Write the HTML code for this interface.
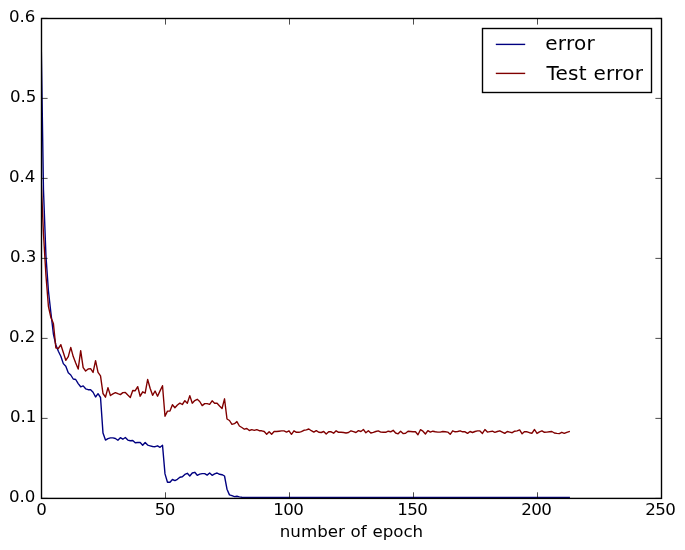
<!DOCTYPE html>
<html><head><meta charset="utf-8"><title>error plot</title>
<style>
html,body{margin:0;padding:0;background:#fff;}
svg{display:block}
text{font-family:"DejaVu Sans","Liberation Sans",sans-serif;fill:#000}
</style></head><body>
<svg width="685" height="550" viewBox="0 0 685 550">
<rect width="685" height="550" fill="#fff"/>
<defs><clipPath id="ax"><rect x="41" y="18.5" width="620" height="480.4"/></clipPath></defs>
<g clip-path="url(#ax)" fill="none" stroke-width="1.39" stroke-linejoin="round" stroke-linecap="square">
<polyline stroke="#000080" points="41.00,30.0 43.48,190.0 45.96,256.0 48.44,291.0 50.92,313.0 53.40,334.0 55.88,345.0 58.36,351.3 60.84,356.3 63.32,363.6 65.80,366.3 68.28,372.8 70.76,375.0 73.24,379.0 75.72,379.5 78.20,383.6 80.68,386.8 83.16,385.9 85.64,388.8 88.12,389.7 90.60,389.7 93.08,392.2 95.56,397.0 98.04,393.7 100.52,397.5 103.00,433.1 105.48,440.1 107.96,438.6 110.44,437.9 112.92,437.9 115.40,438.5 117.88,440.3 120.36,437.7 122.84,439.2 125.32,437.5 127.80,440.1 130.28,440.7 132.76,440.5 135.24,442.8 137.72,442.5 140.20,442.5 142.68,445.3 145.16,442.5 147.64,445.1 150.12,445.8 152.60,446.5 155.08,446.7 157.56,445.8 160.04,447.3 162.52,445.3 165.00,473.9 167.48,482.2 169.96,482.2 172.44,479.5 174.92,480.6 177.40,479.3 179.88,477.2 182.36,476.7 184.84,474.4 187.32,473.3 189.80,476.0 192.28,473.0 194.76,472.3 197.24,475.3 199.72,474.1 202.20,473.6 204.68,473.6 207.16,475.1 209.64,473.0 212.12,475.3 214.60,473.8 217.08,473.0 219.56,474.3 222.04,474.7 224.52,476.0 227.00,489.2 229.48,494.9 231.96,495.7 234.44,496.6 236.92,496.3 239.40,496.9 241.88,497.2 244.36,497.4 246.84,497.5 249.32,497.5 251.80,497.5 254.28,497.5 256.76,497.5 259.24,497.5 261.72,497.5 264.20,497.5 266.68,497.5 269.16,497.5 271.64,497.5 274.12,497.5 276.60,497.5 279.08,497.5 281.56,497.5 284.04,497.5 286.52,497.5 289.00,497.5 291.48,497.5 293.96,497.5 296.44,497.5 298.92,497.5 301.40,497.5 303.88,497.5 306.36,497.5 308.84,497.5 311.32,497.5 313.80,497.5 316.28,497.5 318.76,497.5 321.24,497.5 323.72,497.5 326.20,497.5 328.68,497.5 331.16,497.5 333.64,497.5 336.12,497.5 338.60,497.5 341.08,497.5 343.56,497.5 346.04,497.5 348.52,497.5 351.00,497.5 353.48,497.5 355.96,497.5 358.44,497.5 360.92,497.5 363.40,497.5 365.88,497.5 368.36,497.5 370.84,497.5 373.32,497.5 375.80,497.5 378.28,497.5 380.76,497.5 383.24,497.5 385.72,497.5 388.20,497.5 390.68,497.5 393.16,497.5 395.64,497.5 398.12,497.5 400.60,497.5 403.08,497.5 405.56,497.5 408.04,497.5 410.52,497.5 413.00,497.5 415.48,497.5 417.96,497.5 420.44,497.5 422.92,497.5 425.40,497.5 427.88,497.5 430.36,497.5 432.84,497.5 435.32,497.5 437.80,497.5 440.28,497.5 442.76,497.5 445.24,497.5 447.72,497.5 450.20,497.5 452.68,497.5 455.16,497.5 457.64,497.5 460.12,497.5 462.60,497.5 465.08,497.5 467.56,497.5 470.04,497.5 472.52,497.5 475.00,497.5 477.48,497.5 479.96,497.5 482.44,497.5 484.92,497.5 487.40,497.5 489.88,497.5 492.36,497.5 494.84,497.5 497.32,497.5 499.80,497.5 502.28,497.5 504.76,497.5 507.24,497.5 509.72,497.5 512.20,497.5 514.68,497.5 517.16,497.5 519.64,497.5 522.12,497.5 524.60,497.5 527.08,497.5 529.56,497.5 532.04,497.5 534.52,497.5 537.00,497.5 539.48,497.5 541.96,497.5 544.44,497.5 546.92,497.5 549.40,497.5 551.88,497.5 554.36,497.5 556.84,497.5 559.32,497.5 561.80,497.5 564.28,497.5 566.76,497.5 569.24,497.5"/>
<polyline stroke="#800000" points="41.00,177.0 43.48,234.0 45.96,275.5 48.44,306.5 50.92,317.5 53.40,323.5 55.88,347.9 58.36,348.5 60.84,344.7 63.32,352.5 65.80,360.3 68.28,356.6 70.76,347.4 73.24,356.6 75.72,363.1 78.20,369.1 80.68,350.7 83.16,367.6 85.64,371.0 88.12,369.0 90.60,368.6 93.08,372.4 95.56,360.6 98.04,372.4 100.52,375.9 103.00,393.5 105.48,397.2 107.96,387.6 110.44,395.5 112.92,393.9 115.40,392.6 117.88,393.7 120.36,394.6 122.84,392.6 125.32,392.5 127.80,395.1 130.28,397.5 132.76,390.5 135.24,390.7 137.72,386.7 140.20,396.2 142.68,391.8 145.16,393.1 147.64,379.5 150.12,388.3 152.60,395.3 155.08,391.0 157.56,396.2 160.04,390.9 162.52,385.7 165.00,416.3 167.48,411.1 169.96,411.1 172.44,404.7 174.92,407.8 177.40,405.0 179.88,403.1 182.36,404.5 184.84,400.7 187.32,403.2 189.80,395.6 192.28,403.2 194.76,400.6 197.24,399.3 199.72,401.5 202.20,405.6 204.68,403.6 207.16,403.6 209.64,404.3 212.12,400.8 214.60,403.2 217.08,403.2 219.56,406.0 222.04,408.5 224.52,398.8 227.00,419.0 229.48,420.5 231.96,424.4 234.44,423.7 236.92,421.6 239.40,426.0 241.88,427.5 244.36,429.2 246.84,428.5 249.32,430.5 251.80,429.7 254.28,430.4 256.76,429.6 259.24,430.7 261.72,430.8 264.20,431.5 266.68,434.3 269.16,431.8 271.64,434.3 274.12,431.5 276.60,431.5 279.08,431.2 281.56,430.9 284.04,430.9 286.52,432.1 289.00,430.8 291.48,434.3 293.96,430.8 296.44,432.3 298.92,432.3 301.40,431.6 303.88,430.3 306.36,429.9 308.84,429.0 311.32,430.7 313.80,432.1 316.28,430.6 318.76,432.3 321.24,432.5 323.72,431.5 326.20,434.1 328.68,431.8 331.16,431.8 333.64,433.2 336.12,430.8 338.60,432.3 341.08,432.3 343.56,432.5 346.04,433.0 348.52,432.5 351.00,430.8 353.48,431.6 355.96,432.5 358.44,430.6 360.92,431.5 363.40,429.5 365.88,432.8 368.36,430.7 370.84,433.0 373.32,432.3 375.80,431.5 378.28,430.9 380.76,432.1 383.24,432.3 385.72,432.3 388.20,431.2 390.68,431.8 393.16,430.3 395.64,433.0 398.12,433.8 400.60,431.2 403.08,433.6 405.56,433.2 408.04,431.2 410.52,431.5 413.00,431.8 415.48,431.8 417.96,434.7 420.44,429.7 422.92,431.2 425.40,434.0 427.88,430.6 430.36,432.1 432.84,431.2 435.32,431.8 437.80,432.1 440.28,432.1 442.76,431.5 445.24,431.8 447.72,432.1 450.20,434.3 452.68,430.8 455.16,431.8 457.64,431.5 460.12,430.8 462.60,431.8 465.08,431.8 467.56,433.4 470.04,431.5 472.52,432.5 475.00,431.5 477.48,430.9 479.96,430.9 482.44,433.4 484.92,429.5 487.40,432.1 489.88,431.6 492.36,431.2 494.84,432.3 497.32,431.5 499.80,430.8 502.28,432.1 504.76,433.4 507.24,431.5 509.72,432.1 512.20,432.7 514.68,431.2 517.16,430.9 519.64,429.9 522.12,433.8 524.60,431.6 527.08,431.8 529.56,432.7 532.04,433.2 534.52,429.5 537.00,433.4 539.48,431.8 541.96,430.8 544.44,432.3 546.92,432.1 549.40,431.8 551.88,431.5 554.36,433.0 556.84,433.4 559.32,433.6 561.80,432.3 564.28,433.4 566.76,432.3 569.24,431.5"/>
</g>
<path d="M41.5 498.4v-6.1M41.5 18.5v6.1M165.5 498.4v-6.1M165.5 18.5v6.1M289.5 498.4v-6.1M289.5 18.5v6.1M413.5 498.4v-6.1M413.5 18.5v6.1M537.5 498.4v-6.1M537.5 18.5v6.1M661.5 498.4v-6.1M661.5 18.5v6.1M41.5 498.4h6.1M661.5 498.4h-6.1M41.5 418.4h6.1M661.5 418.4h-6.1M41.5 338.4h6.1M661.5 338.4h-6.1M41.5 258.4h6.1M661.5 258.4h-6.1M41.5 178.4h6.1M661.5 178.4h-6.1M41.5 98.4h6.1M661.5 98.4h-6.1M41.5 18.4h6.1M661.5 18.4h-6.1" stroke="#000" stroke-width="0.7" fill="none"/>
<rect x="41.5" y="18.5" width="620.0" height="479.9" fill="none" stroke="#000" stroke-width="1.39"/>
<g font-size="16.67px"><text x="41.2" y="515.3" text-anchor="middle" letter-spacing="-0.5">0</text><text x="164.8" y="515.3" text-anchor="middle" letter-spacing="-0.5">50</text><text x="288.3" y="515.3" text-anchor="middle" letter-spacing="-0.5">100</text><text x="412.3" y="515.3" text-anchor="middle" letter-spacing="-0.5">150</text><text x="536.3" y="515.3" text-anchor="middle" letter-spacing="-0.5">200</text><text x="660.3" y="515.3" text-anchor="middle" letter-spacing="-0.5">250</text><text x="35.45" y="501.8" text-anchor="end">0.0</text><text x="36.4" y="421.8" text-anchor="end">0.1</text><text x="35.45" y="341.8" text-anchor="end">0.2</text><text x="36.4" y="261.8" text-anchor="end">0.3</text><text x="35.45" y="181.8" text-anchor="end">0.4</text><text x="36.4" y="101.8" text-anchor="end">0.5</text><text x="35.45" y="21.8" text-anchor="end">0.6</text>
<text x="351.5" y="536.9" text-anchor="middle" word-spacing="0.5">number of epoch</text></g>
<rect x="482.5" y="28.5" width="169" height="64" fill="#fff" stroke="#000" stroke-width="1.39"/>
<path d="M496.5 44.4H524.5" stroke="#000080" stroke-width="1.39" stroke-linecap="square"/>
<path d="M496.5 73.4H524.5" stroke="#800000" stroke-width="1.39" stroke-linecap="square"/>
<g font-size="20px"><text x="545.2" y="50.0" letter-spacing="0.3">error</text><text x="546.5" y="79.7" letter-spacing="0.25">Test error</text></g>
</svg>
</body></html>
